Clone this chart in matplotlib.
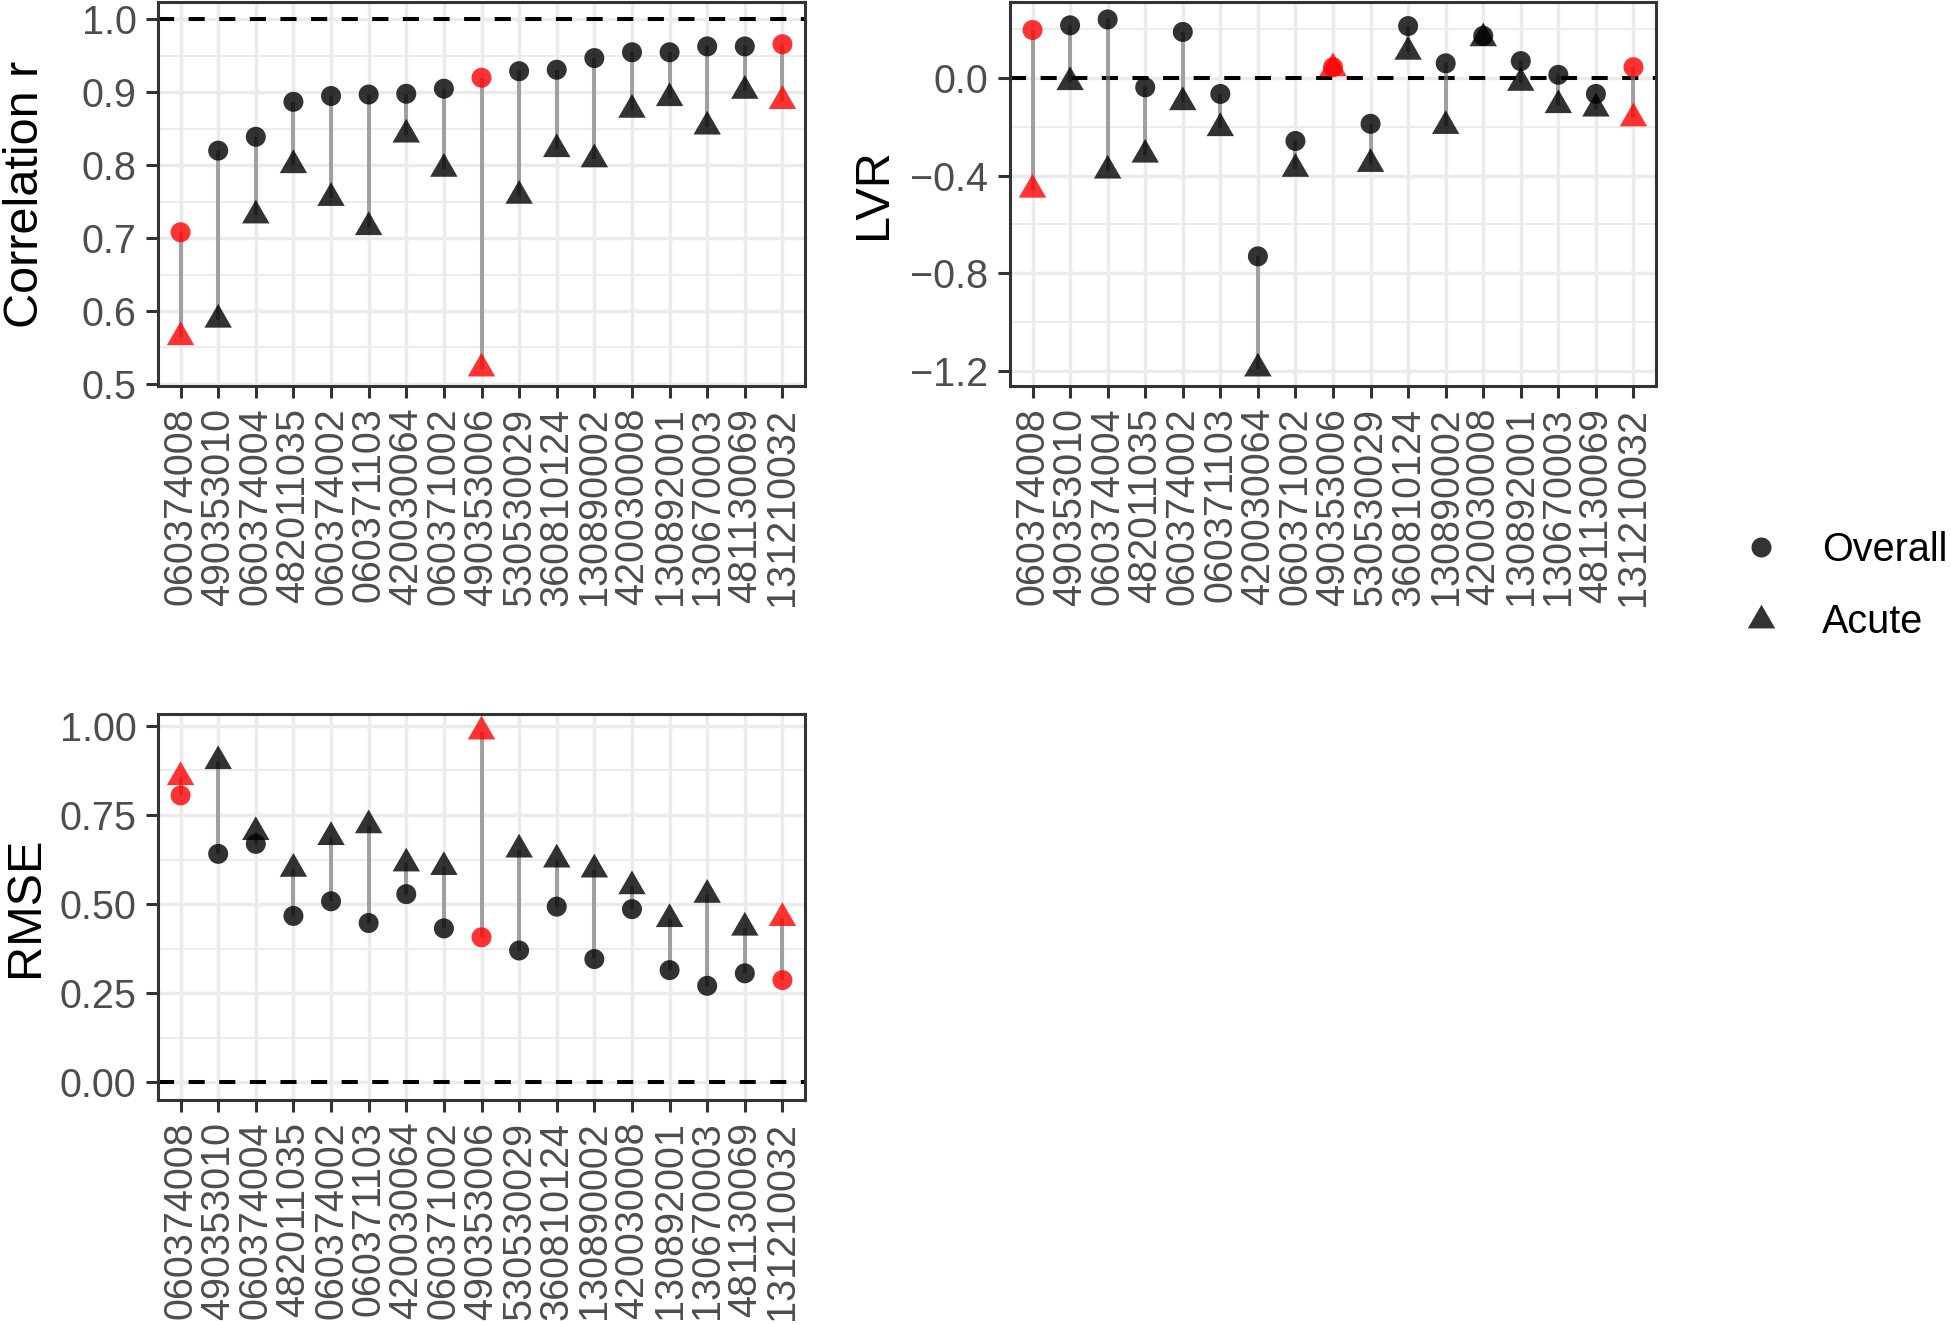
import numpy as np
import matplotlib
matplotlib.use('Agg')
import matplotlib.pyplot as plt
from matplotlib.path import Path
from matplotlib.lines import Line2D

plt.rcParams['font.family'] = ['Liberation Sans', 'DejaVu Sans']

# monitor sites (x axis order)
sites = ['060374008', '490353010', '060374004', '482011035', '060374002',
         '060371103', '420030064', '060371002', '490353006', '530530029',
         '360810124', '130890002', '420030008', '130892001', '130670003',
         '481130069', '131210032']
highlight = ['060374008', '490353006', '131210032']

# Correlation r
corr_overall = [0.708, 0.820, 0.839, 0.887, 0.895, 0.897, 0.898, 0.905, 0.920,
                0.929, 0.931, 0.947, 0.955, 0.955, 0.963, 0.963, 0.966]
corr_acute = [0.564, 0.588, 0.731, 0.800, 0.755, 0.715, 0.842, 0.795, 0.521,
              0.758, 0.822, 0.808, 0.876, 0.892, 0.853, 0.902, 0.888]

# LVR
lvr_overall = [0.194, 0.213, 0.237, -0.040, 0.186, -0.067, -0.730, -0.259, 0.042,
               -0.189, 0.210, 0.058, 0.170, 0.067, 0.011, -0.067, 0.042]
lvr_acute = [-0.458, -0.019, -0.380, -0.315, -0.101, -0.207, -1.188, -0.373, 0.038,
             -0.353, 0.105, -0.198, 0.160, -0.022, -0.113, -0.127, -0.167]

# RMSE
rmse_overall = [0.805, 0.641, 0.669, 0.467, 0.508, 0.447, 0.528, 0.432, 0.407,
                0.370, 0.493, 0.346, 0.486, 0.315, 0.271, 0.306, 0.287]
rmse_acute = [0.856, 0.901, 0.702, 0.599, 0.688, 0.721, 0.614, 0.604, 0.984,
              0.653, 0.625, 0.597, 0.550, 0.458, 0.526, 0.434, 0.461]

# equilateral triangle, centred on its centroid (like R's pch 17)
tri = Path([(0, 0.577), (-0.5, -0.289), (0.5, -0.289), (0, 0.577)],
           [Path.MOVETO, Path.LINETO, Path.LINETO, Path.CLOSEPOLY])

W, H = 1951, 1324
fig = plt.figure(figsize=(W / 100, H / 100), dpi=100)


def panel(px, overall, acute, ref, ylab, major, minor, ndec, lab_x):
    left, top, right, bottom = px
    ax = fig.add_axes([left / W, 1 - bottom / H, (right - left) / W, (bottom - top) / H])
    x = np.arange(len(sites))
    cols = ['#ff0000' if s in highlight else '#000000' for s in sites]

    ax.vlines(x, overall, acute, color='#7f7f7f', alpha=0.7, lw=2.9, zorder=2)
    ax.axhline(ref, color='black', lw=2.9, dashes=(4, 3.6), zorder=1.5)
    ax.scatter(x, overall, s=14.4 ** 2, c=cols, alpha=0.8, marker='o',
               linewidths=0, zorder=3)
    ax.scatter(x, acute, s=22.8 ** 2, c=cols, alpha=0.8, marker=tri,
               linewidths=0, zorder=3)

    vals = list(overall) + list(acute) + [ref]
    lo, hi = min(vals), max(vals)
    pad = 0.05 * (hi - lo)
    ax.set_ylim(lo - pad, hi + pad)
    ax.set_xlim(-0.6, len(sites) - 0.4)

    ax.set_yticks(major)
    ax.set_yticklabels([f'{v:.{ndec}f}'.replace('-', '\u2212') for v in major])
    ax.set_yticks(minor, minor=True)
    ax.set_xticks(x)
    ax.set_xticklabels(sites, rotation=90)

    ax.set_axisbelow(True)
    ax.grid(which='major', color='#ebebeb', lw=2.5)
    ax.grid(which='minor', axis='y', color='#ebebeb', lw=1.3)
    for sp in ax.spines.values():
        sp.set_color('#333333')
        sp.set_linewidth(2.2)
    ax.tick_params(which='major', length=8.5, width=2.2, color='#333333',
                   labelcolor='#4d4d4d', labelsize=28.5, pad=7)
    ax.tick_params(which='minor', length=0)

    ax.set_ylabel(ylab, fontsize=35, color='black')
    ax.yaxis.set_label_coords(lab_x, 0.5)
    return ax


panel((158, 2, 805, 386), corr_overall, corr_acute, 1.0, 'Correlation r',
      [0.5, 0.6, 0.7, 0.8, 0.9, 1.0], [0.55, 0.65, 0.75, 0.85, 0.95], 1, -0.170)
panel((1010, 2, 1656, 386), lvr_overall, lvr_acute, 0.0, 'LVR',
      [-1.2, -0.8, -0.4, 0.0], [-1.0, -0.6, -0.2, 0.2], 1, -0.176)
panel((158, 714, 805, 1100), rmse_overall, rmse_acute, 0.0, 'RMSE',
      [0.0, 0.25, 0.5, 0.75, 1.0], [0.125, 0.375, 0.625, 0.875], 2, -0.170)

handles = [Line2D([], [], ls='', marker='o', markersize=14.4, color='black',
                  alpha=0.8, markeredgewidth=0),
           Line2D([], [], ls='', marker=tri, markersize=22.8, color='black',
                  alpha=0.8, markeredgewidth=0)]
fig.legend(handles, ['Overall', 'Acute'], loc='center left',
           bbox_to_anchor=(1737 / W, 1 - 586 / H), frameon=False, fontsize=28.5,
           handlelength=1.2, handletextpad=0.95, labelspacing=0.88,
           borderpad=0, borderaxespad=0)

fig.savefig('out.png', dpi=100)
